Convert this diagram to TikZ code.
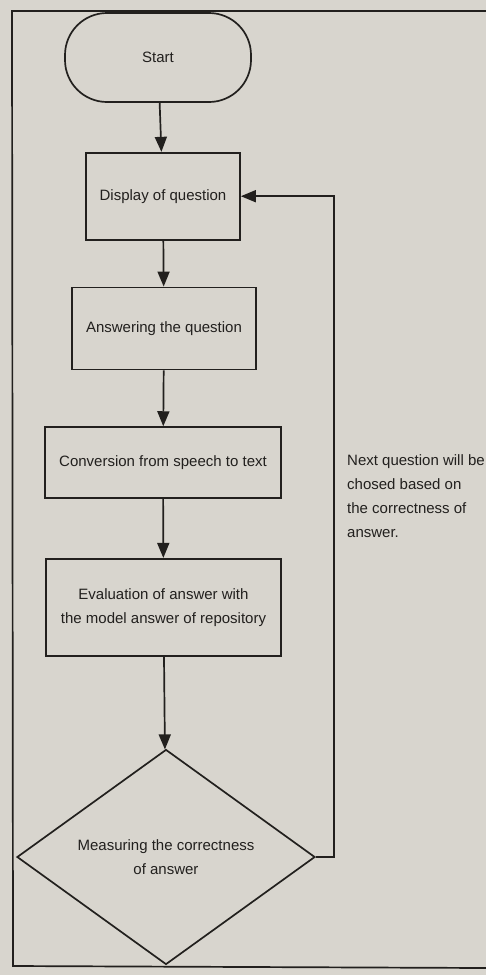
\documentclass[tikz,border=0pt]{standalone}
\usepackage{fontspec}
\setmainfont{Liberation Sans}
\usetikzlibrary{arrows.meta,positioning,shapes.geometric}
\definecolor{paper}{RGB}{216,213,206}
\definecolor{ink}{RGB}{34,32,30}

\begin{document}
\begin{tikzpicture}[x=1pt, y=-1pt, >={Triangle[length=15pt,width=12pt]}, font=\fontsize{15}{24}\selectfont, line width=1.7pt, color=ink,
  procbox/.style={draw, rectangle, align=center, inner sep=2pt},
  decbox/.style={draw, diamond, align=center, inner sep=0pt}]
  \fill[paper] (0,0) rectangle (486,975);
  \useasboundingbox (0,0) rectangle (486,975);
  % frame of the page
  \draw (486,11) -- (12,11) -- (13,966) -- (486,968);

  \node[draw, rounded corners=42pt, minimum width=186pt, minimum height=89pt] (start) at (158,57.5) {Start};
  \node[procbox, minimum width=154pt, minimum height=87pt, below=49pt of start, xshift=5pt] (display) {Display of question};
  \node[procbox, minimum width=184pt, minimum height=82pt, below=46pt of display, xshift=1pt] (answer) {Answering the question};
  \node[procbox, minimum width=236pt, minimum height=71pt, below=56pt of answer, xshift=-1pt] (convert) {Conversion from speech to text};
  \node[procbox, minimum width=235pt, minimum height=97pt, below=59pt of convert, xshift=0.5pt] (evaluate) {Evaluation of answer with\\the model answer of repository};
  \node[decbox, minimum width=298pt, minimum height=215pt, below=92pt of evaluate, xshift=2.5pt] (decide) {Measuring the correctness\\of answer};

  \node[anchor=north west, align=left] (note) at (343,450) {Next question will be\\chosed based on\\the correctness of\\answer.};

  \draw[->] (start) -- (display);
  \draw[->] (display) -- (answer);
  \draw[->] (answer) -- (convert);
  \draw[->] (convert) -- (evaluate);
  \draw[->] (evaluate) -- (decide);
  \draw[->] (decide.east) -- ++(18,0) |- (display.east);
\end{tikzpicture}
\end{document}
